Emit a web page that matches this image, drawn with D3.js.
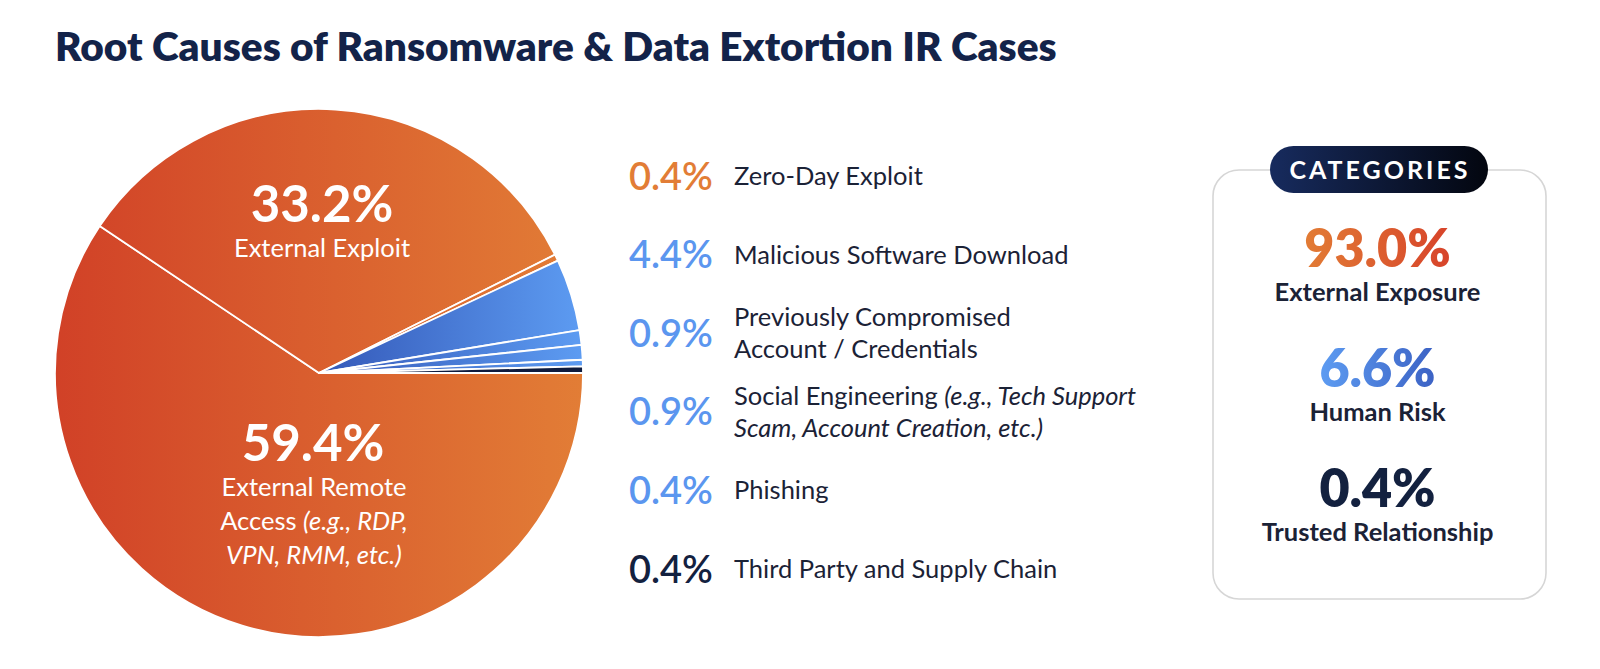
<!DOCTYPE html>
<html lang="en">
<head>
    <meta charset="UTF-8">
    <title>Root Causes</title>
    <script src="https://d3js.org/d3.v7.min.js"></script>
    <style>
        body { margin: 0; background: #fff; }
        text { font-family: Lato, "Noto Sans", sans-serif; }
    </style>
</head>
<body>
<script>
    const width  = 1600;
    const height = 669;

    // slices, in drawing order (clockwise from 3 o'clock)
    const causes = ["External Remote Access", "External Exploit", "Zero-Day Exploit",
                    "Malicious Software Download", "Previously Compromised Account / Credentials",
                    "Social Engineering", "Phishing", "Third Party and Supply Chain"];
    const shares = [59.4, 33.2, 0.4, 4.4, 0.9, 0.9, 0.4, 0.4];
    const causeGroup = ["ext", "ext", "ext", "human", "human", "human", "human", "trust"];

    // the small ones listed on the right (index into causes)
    const legendItems = [2, 3, 4, 5, 6, 7];
    // [text, italic] pieces per line
    const legendLines = [
        [[["Zero-Day Exploit", false]]],
        [[["Malicious Software Download", false]]],
        [[["Previously Compromised", false]], [["Account / Credentials", false]]],
        [[["Social Engineering ", false], ["(e.g., Tech Support", true]],
         [["Scam, Account Creation, etc.)", true]]],
        [[["Phishing", false]]],
        [[["Third Party and Supply Chain", false]]]
    ];

    const categoryNames  = ["External Exposure", "Human Risk", "Trusted Relationship"];
    const categoryShares = [93.0, 6.6, 0.4];
    const categoryGroup  = ["ext", "human", "trust"];

    const fmt = d => d.toFixed(1) + "%";

    const svg = d3.select("body").append("svg").attr("width", width).attr("height", height);
    const defs = svg.append("defs");

    function grad(id, x1, x2, c1, c2, units) {
        const g = defs.append("linearGradient").attr("id", id)
            .attr("x1", x1).attr("x2", x2).attr("y1", 0).attr("y2", 0);
        if (units) g.attr("gradientUnits", units);
        g.append("stop").attr("offset", 0).attr("stop-color", c1);
        g.append("stop").attr("offset", 1).attr("stop-color", c2);
    }

    const cx = 319, cy = 373, r = 264;
    // gradients in the pie group's coordinates (origin at pie centre)
    grad("gOrange", -r, r, "#d14127", "#e27d36", "userSpaceOnUse");
    grad("gBlue", 0, r, "#3458b8", "#5d9cf2", "userSpaceOnUse");
    grad("gPill", 0, 1, "#172b5e", "#03060f");
    grad("gExtTxt", 0, 1, "#e27c35", "#d7432a");
    grad("gHumTxt", 0, 1, "#5d9cf2", "#3c62c4");

    const fillFor = { ext: "url(#gOrange)", human: "url(#gBlue)", trust: "#0f1b3d" };
    const txtFill = { ext: "url(#gExtTxt)", human: "url(#gHumTxt)", trust: "#13213f" };
    const legendColor = { ext: "#e27d36", human: "#5b96ef", trust: "#13213f" };

    // title
    svg.append("text")
        .attr("x", 55).attr("y", 61)
        .attr("font-size", 40.6).attr("font-weight", 800).attr("fill", "#132349")
        .text("Root Causes of Ransomware & Data Extortion IR Cases");

    // pie
    const pie = d3.pie().sort(null)
        .startAngle(Math.PI / 2).endAngle(Math.PI / 2 + 2 * Math.PI)
        .value(d => d);
    const arcs = pie(shares);
    const arc = d3.arc().innerRadius(0).outerRadius(r);

    svg.append("g").attr("transform", `translate(${cx},${cy})`)
        .selectAll("path").data(arcs).join("path")
        .attr("d", arc)
        .attr("fill", (d, i) => fillFor[causeGroup[i]])
        .attr("stroke", "#fff").attr("stroke-width", 1.8).attr("stroke-linejoin", "round");

    // labels inside the two big slices
    const pieLabels = svg.append("g").attr("fill", "#fff").attr("text-anchor", "middle");
    pieLabels.append("text").attr("x", cx + 3).attr("y", 222)
        .attr("font-size", 51).attr("font-weight", 700).text(fmt(shares[1]));
    pieLabels.append("text").attr("x", cx + 3).attr("y", 257)
        .attr("font-size", 25.5).text("External Exploit");

    pieLabels.append("text").attr("x", cx - 6).attr("y", 461)
        .attr("font-size", 51).attr("font-weight", 700).text(fmt(shares[0]));
    const remote = [[["External Remote", false]], [["Access ", false], ["(e.g., RDP,", true]], [["VPN, RMM, etc.)", true]]];
    remote.forEach((line, k) => {
        const t = pieLabels.append("text").attr("x", cx - 5).attr("y", 496 + k * 34).attr("font-size", 25.5);
        line.forEach(p => t.append("tspan").attr("font-style", p[1] ? "italic" : null).text(p[0]));
    });

    // legend
    const rowY = d3.scaleLinear().domain([0, legendItems.length - 1]).range([176, 569]);
    const legend = svg.append("g");
    legendItems.forEach((ci, k) => {
        const y = rowY(k);
        legend.append("text").attr("x", 629).attr("y", y + 13.5)
            .attr("font-size", 38).attr("font-weight", 600)
            .attr("fill", legendColor[causeGroup[ci]])
            .text(fmt(shares[ci]));
        const lines = legendLines[k];
        lines.forEach((line, j) => {
            const off = (j - (lines.length - 1) / 2) * 32;
            const t = legend.append("text").attr("x", 734).attr("y", y + off + 9)
                .attr("font-size", 25.5).attr("fill", "#1b2236");
            line.forEach(p => t.append("tspan").attr("font-style", p[1] ? "italic" : null).text(p[0]));
        });
    });

    // categories box
    const bx = 1213, by = 170, bw = 333, bh = 429, mid = bx + bw / 2;
    svg.append("rect").attr("x", bx).attr("y", by).attr("width", bw).attr("height", bh)
        .attr("rx", 26).attr("fill", "none").attr("stroke", "#d6d6d6").attr("stroke-width", 1.6);
    svg.append("rect").attr("x", 1270).attr("y", 146).attr("width", 218).attr("height", 47)
        .attr("rx", 23.5).attr("fill", "url(#gPill)");
    svg.append("text").attr("x", 1380).attr("y", 178.5).attr("text-anchor", "middle")
        .attr("font-size", 25).attr("font-weight", 700).attr("fill", "#fff")
        .attr("letter-spacing", 3).text("CATEGORIES");

    const catY = d3.scaleLinear().domain([0, 2]).range([267, 507]);
    categoryNames.forEach((name, k) => {
        svg.append("text").attr("x", mid - 2).attr("y", catY(k)).attr("text-anchor", "middle")
            .attr("font-size", 52).attr("font-weight", 800)
            .attr("fill", txtFill[categoryGroup[k]]).text(fmt(categoryShares[k]));
        svg.append("text").attr("x", mid - 2).attr("y", catY(k) + 34).attr("text-anchor", "middle")
            .attr("font-size", 25.5).attr("font-weight", 700).attr("fill", "#1b2236").text(name);
    });
</script>
</body>
</html>
